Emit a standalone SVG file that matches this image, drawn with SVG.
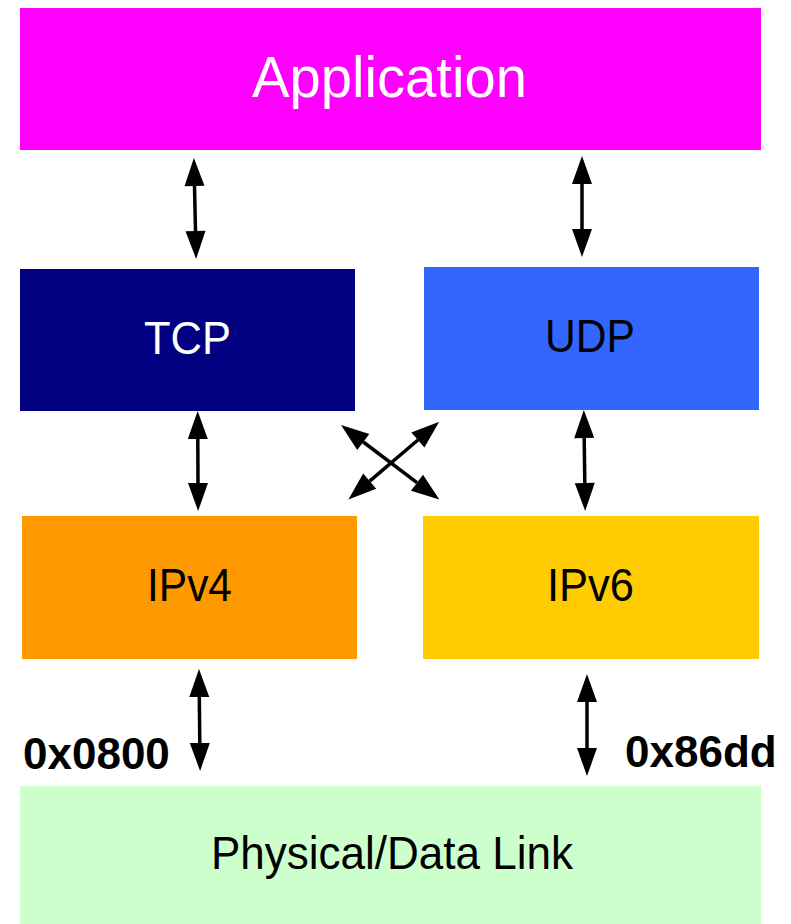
<svg xmlns="http://www.w3.org/2000/svg" width="791" height="924" viewBox="0 0 791 924">
<style>
text{font-family:"Liberation Sans",Arial,sans-serif;text-anchor:middle}
.lbl{font-size:46px}
.w{fill:#fff}
.k{fill:#000}
.hex{font-size:44px;font-weight:bold;text-anchor:start}
.c{stroke:#000;stroke-width:3.5;fill:none;marker-start:url(#ah);marker-end:url(#ah)}
</style>
<defs>
<marker id="ah" markerUnits="userSpaceOnUse" markerWidth="30" markerHeight="22" refX="0" refY="10" orient="auto-start-reverse" overflow="visible">
<path d="M0,0 L28,10 L0,20 z" fill="#000"/>
</marker>
</defs>
<rect width="791" height="924" fill="#fff"/>
<g id="application">
<rect x="20" y="8" width="741" height="142" fill="#FF00FF"/>
<text x="389.5" y="97" class="w" style="font-size:58px" textLength="275" lengthAdjust="spacingAndGlyphs">Application</text>
</g>
<g id="tcp">
<rect x="20" y="269" width="335" height="142" fill="#000080"/>
<text x="187.5" y="354" class="lbl w" textLength="87" lengthAdjust="spacingAndGlyphs">TCP</text>
</g>
<g id="udp">
<rect x="424" y="267" width="335" height="143" fill="#3366FF"/>
<text x="590" y="352" class="lbl k" textLength="90" lengthAdjust="spacingAndGlyphs">UDP</text>
</g>
<g id="ipv4">
<rect x="22" y="516" width="335" height="143" fill="#FF9900"/>
<text x="189.5" y="601" class="lbl k" textLength="85" lengthAdjust="spacingAndGlyphs">IPv4</text>
</g>
<g id="ipv6">
<rect x="423" y="516" width="336" height="143" fill="#FFCC00"/>
<text x="590.5" y="601" class="lbl k" textLength="87" lengthAdjust="spacingAndGlyphs">IPv6</text>
</g>
<g id="physical">
<rect x="20" y="786" width="741" height="138" fill="#CCFFCC"/>
<text x="392" y="869" class="lbl k" textLength="362" lengthAdjust="spacingAndGlyphs">Physical/Data Link</text>
</g>
<g id="connectors">
<path class="c" d="M194.5,186 L195.5,231"/>
<path class="c" d="M582,184 L582,229"/>
<path class="c" d="M197.8,439 L198,483"/>
<path class="c" d="M584.2,438 L584.8,483"/>
<path class="c" d="M363.3,442 L417,482.7"/>
<path class="c" d="M417.9,440 L369.7,481.2"/>
<path class="c" d="M199.3,697 L199.8,743"/>
<path class="c" d="M587,702 L587,748"/>
</g>
<g id="labels">
<text x="23" y="769" class="hex">0x0800</text>
<text x="625" y="767" class="hex">0x86dd</text>
</g>
</svg>
